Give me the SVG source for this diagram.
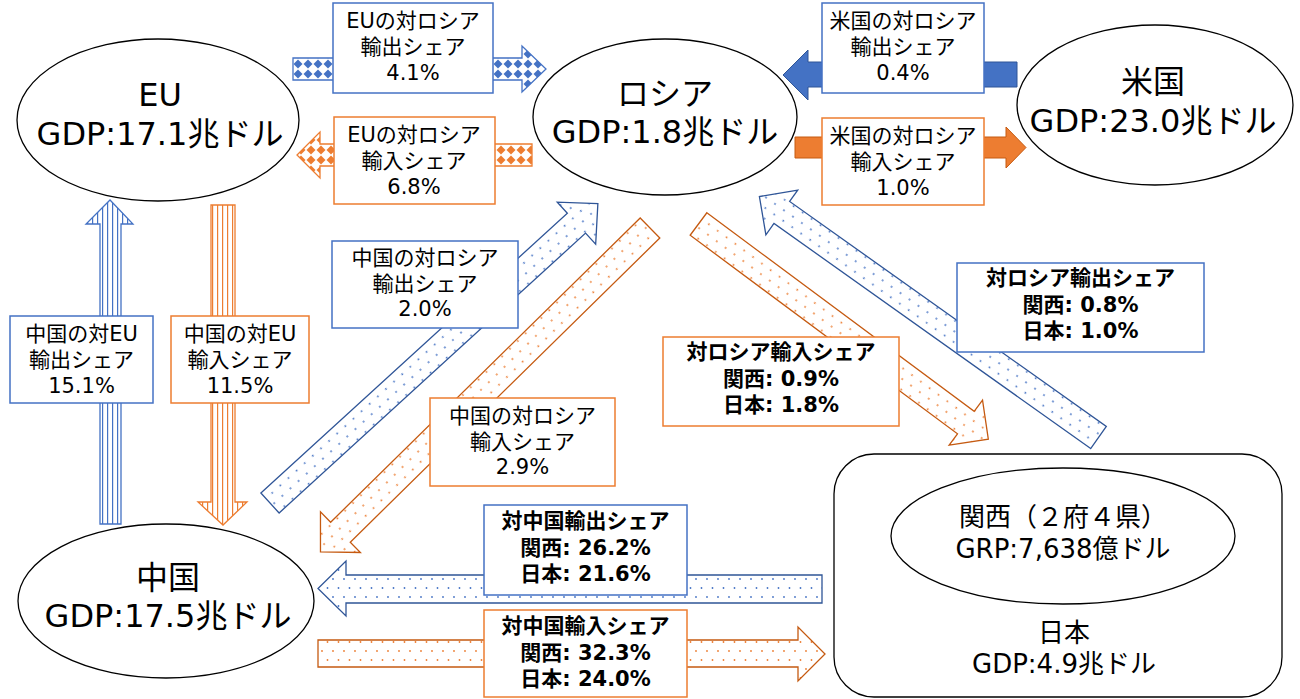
<svg xmlns="http://www.w3.org/2000/svg" width="1300" height="699" viewBox="0 0 1300 699">
<defs>
<style>
text{font-family:"DejaVu Sans","Noto Sans CJK JP",sans-serif;text-anchor:middle;fill:#000}
.n{font-size:32px}
.k{font-size:26px}
.s{font-size:21px}
.sb{font-size:21px;font-weight:bold}
.node{fill:#fff;stroke:#000;stroke-width:1.3}
.lb{fill:#fff;stroke:#4472C4;stroke-width:1.5}
.lo{fill:#fff;stroke:#ED7D31;stroke-width:1.5}
.dotB{fill:url(#pDotB);stroke:#2F5597;stroke-width:1.3;stroke-linejoin:miter}
.dotO{fill:url(#pDotO);stroke:#C55A11;stroke-width:1.3;stroke-linejoin:miter}
.strB{fill:url(#pStrB);stroke:#4472C4;stroke-width:1.3}
.strO{fill:url(#pStrO);stroke:#ED7D31;stroke-width:1.3}
.diaB{fill:url(#pDiaB);stroke:#4472C4;stroke-width:1.3}
.diaO{fill:url(#pDiaO);stroke:#ED7D31;stroke-width:1.3}
.solB{fill:#4472C4;stroke:#2F5597;stroke-width:1}
.solO{fill:#ED7D31;stroke:#C55A11;stroke-width:1}
</style>
<pattern id="pDotB" width="11" height="18" patternUnits="userSpaceOnUse">
<rect width="11" height="18" fill="#fff"/>
<circle cx="3" cy="3" r="0.9" fill="#4472C4"/>
<circle cx="8.5" cy="12" r="0.9" fill="#4472C4"/>
</pattern>
<pattern id="pDotO" width="11" height="18" patternUnits="userSpaceOnUse">
<rect width="11" height="18" fill="#fff"/>
<circle cx="3" cy="3" r="0.9" fill="#ED7D31"/>
<circle cx="8.5" cy="12" r="0.9" fill="#ED7D31"/>
</pattern>
<pattern id="pStrB" width="5" height="10" patternUnits="userSpaceOnUse">
<rect width="5" height="10" fill="#fff"/>
<rect x="2" width="1.2" height="10" fill="#4472C4"/>
</pattern>
<pattern id="pStrO" width="5" height="10" patternUnits="userSpaceOnUse">
<rect width="5" height="10" fill="#fff"/>
<rect x="2" width="1.2" height="10" fill="#ED7D31"/>
</pattern>
<pattern id="pDiaB" width="10" height="10" patternUnits="userSpaceOnUse" x="293" y="59">
<rect width="10" height="10" fill="#fff"/>
<polygon points="5,0.5 9.5,5 5,9.5 0.5,5" fill="#4472C4"/>
</pattern>
<pattern id="pDiaO" width="10" height="10" patternUnits="userSpaceOnUse" x="296" y="145">
<rect width="10" height="10" fill="#fff"/>
<polygon points="5,0.5 9.5,5 5,9.5 0.5,5" fill="#ED7D31"/>
</pattern>
</defs>
<rect width="1300" height="699" fill="#fff"/>

<g id="connectors">
<!-- EU -> Russia export (diamond) -->
<polygon class="diaB" points="293,58 522,58 522,46 546,69 522,92 522,80 293,80"/>
<!-- Russia -> EU import (diamond) -->
<polygon class="diaO" points="532,144 320,144 320,132 297,155 320,178 320,166 532,166"/>
<!-- US -> Russia export (solid) -->
<polygon class="solB" points="1017,62 808,62 808,50 783,75 808,100 808,87 1017,87"/>
<!-- Russia -> US import (solid) -->
<polygon class="solO" points="795,137 1006,137 1006,127 1026,147.5 1006,168 1006,158 795,158"/>
<!-- China -> EU export (stripes, up) -->
<polygon class="strB" points="100,524 100,224 86,224 110,200 133,224 121,224 121,524"/>
<!-- EU -> China import (stripes, down) -->
<polygon class="strO" points="211,205 235,205 235,502 247,502 223,525 198,502 211,502"/>
<!-- China -> Russia export (dots, diagonal) -->
<polygon class="dotB" transform="translate(270,503) rotate(-42.4)" points="0,-13.5 415,-13.5 415,-28.5 444,0 415,28.5 415,13.5 0,13.5"/>
<!-- Russia -> China import (dots, diagonal) -->
<polygon class="dotO" transform="translate(650,228) rotate(135.5)" points="0,-14 434,-14 434,-28.5 462,0 434,28.5 434,14 0,14"/>
<!-- Russia -> Kansai import (dots, diagonal) -->
<polygon class="dotO" transform="translate(698.5,224) rotate(36.6)" points="0,-14 333,-14 333,-28 361,0 333,28 333,14 0,14"/>
<!-- Kansai -> Russia export (dots, diagonal) -->
<polygon class="dotB" transform="translate(1098.5,437.5) rotate(215.4)" points="0,-13.5 388.5,-13.5 388.5,-27.5 416,0 388.5,27.5 388.5,13.5 0,13.5"/>
<!-- Japan -> China export (dots, horizontal) -->
<polygon class="dotB" points="822,575 346,575 346,561 318,588.5 346,616 346,603 822,603"/>
<!-- China -> Japan import (dots, horizontal) -->
<polygon class="dotO" points="318,640 798,640 798,627 825,654 798,681 798,667 318,667"/>
</g>

<g id="eu">
<ellipse class="node" cx="158" cy="120" rx="141" ry="81"/>
<text class="n" x="160" y="106">EU</text>
<text class="n" x="160" y="145">GDP:17.1兆ドル</text>
</g>

<g id="russia">
<ellipse class="node" cx="665" cy="117" rx="132" ry="78"/>
<text class="n" x="665" y="105">ロシア</text>
<text class="n" x="665" y="143">GDP:1.8兆ドル</text>
</g>

<g id="us">
<ellipse class="node" cx="1155" cy="105" rx="138" ry="80"/>
<text class="n" x="1153" y="93">米国</text>
<text class="n" x="1153" y="132">GDP:23.0兆ドル</text>
</g>

<g id="china">
<ellipse class="node" cx="166" cy="601" rx="148" ry="77"/>
<text class="n" x="168" y="589">中国</text>
<text class="n" x="168" y="627">GDP:17.5兆ドル</text>
</g>

<g id="japan">
<rect class="node" x="834" y="454" width="448" height="243" rx="40" ry="40"/>
<text class="k" x="1064" y="642">日本</text>
<text class="k" x="1064" y="673">GDP:4.9兆ドル</text>
</g>

<g id="kansai">
<ellipse class="node" cx="1063" cy="536" rx="172" ry="68"/>
<text class="k" x="1063" y="526">関西（２府４県）</text>
<text class="k" x="1063" y="558">GRP:7,638億ドル</text>
</g>

<g id="labels">
<g id="lbl-eu-exp">
<rect class="lb" x="333" y="3" width="160" height="90"/>
<text class="s" x="413" y="28">EUの対ロシア</text>
<text class="s" x="413" y="54">輸出シェア</text>
<text class="s" x="413" y="80">4.1%</text>
</g>
<g id="lbl-eu-imp">
<rect class="lo" x="334" y="117" width="161" height="87"/>
<text class="s" x="414" y="142">EUの対ロシア</text>
<text class="s" x="414" y="168">輸入シェア</text>
<text class="s" x="414" y="194">6.8%</text>
</g>
<g id="lbl-us-exp">
<rect class="lb" x="822" y="3" width="162" height="90"/>
<text class="s" x="903" y="28">米国の対ロシア</text>
<text class="s" x="903" y="54">輸出シェア</text>
<text class="s" x="903" y="80">0.4%</text>
</g>
<g id="lbl-us-imp">
<rect class="lo" x="822" y="118" width="162" height="87"/>
<text class="s" x="903" y="143">米国の対ロシア</text>
<text class="s" x="903" y="169">輸入シェア</text>
<text class="s" x="903" y="195">1.0%</text>
</g>
<g id="lbl-cn-eu-exp">
<rect class="lb" x="10" y="316" width="143" height="87"/>
<text class="s" x="81.5" y="341">中国の対EU</text>
<text class="s" x="81.5" y="367">輸出シェア</text>
<text class="s" x="81.5" y="393">15.1%</text>
</g>
<g id="lbl-cn-eu-imp">
<rect class="lo" x="171" y="316" width="138" height="87"/>
<text class="s" x="240" y="341">中国の対EU</text>
<text class="s" x="240" y="367">輸入シェア</text>
<text class="s" x="240" y="393">11.5%</text>
</g>
<g id="lbl-cn-ru-exp">
<rect class="lb" x="332" y="241" width="186" height="87"/>
<text class="s" x="425" y="265">中国の対ロシア</text>
<text class="s" x="425" y="291">輸出シェア</text>
<text class="s" x="425" y="316">2.0%</text>
</g>
<g id="lbl-cn-ru-imp">
<rect class="lo" x="430" y="398" width="185" height="88"/>
<text class="s" x="522.5" y="423">中国の対ロシア</text>
<text class="s" x="522.5" y="449">輸入シェア</text>
<text class="s" x="522.5" y="474">2.9%</text>
</g>
<g id="lbl-jp-ru-exp">
<rect class="lb" x="957" y="263" width="247" height="89"/>
<text class="sb" x="1080.5" y="285">対ロシア輸出シェア</text>
<text class="sb" x="1080.5" y="312">関西: 0.8%</text>
<text class="sb" x="1080.5" y="338">日本: 1.0%</text>
</g>
<g id="lbl-jp-ru-imp">
<rect class="lo" x="663" y="337" width="236" height="89"/>
<text class="sb" x="781" y="359">対ロシア輸入シェア</text>
<text class="sb" x="781" y="386">関西: 0.9%</text>
<text class="sb" x="781" y="412">日本: 1.8%</text>
</g>
<g id="lbl-jp-cn-exp">
<rect class="lb" x="484" y="505" width="203" height="90"/>
<text class="sb" x="585.5" y="528">対中国輸出シェア</text>
<text class="sb" x="585.5" y="555">関西: 26.2%</text>
<text class="sb" x="585.5" y="581">日本: 21.6%</text>
</g>
<g id="lbl-jp-cn-imp">
<rect class="lo" x="484" y="610" width="203" height="87"/>
<text class="sb" x="585.5" y="633">対中国輸入シェア</text>
<text class="sb" x="585.5" y="660">関西: 32.3%</text>
<text class="sb" x="585.5" y="686">日本: 24.0%</text>
</g>
</g>
</svg>
